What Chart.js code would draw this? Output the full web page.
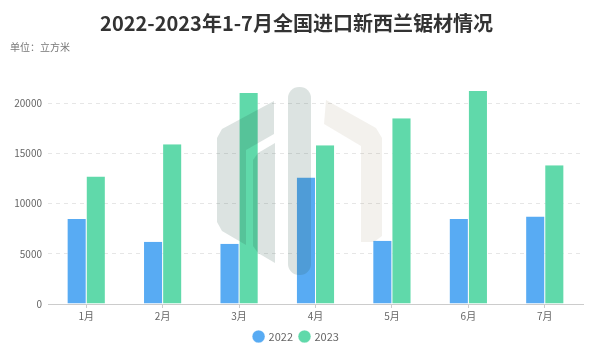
<!DOCTYPE html>
<html>
<head>
<meta charset="utf-8">
<script src="https://cdn.jsdelivr.net/npm/chart.js@4"></script>
<style>
  html, body { margin: 0; padding: 0; background: #fff; }
  #wrap { width: 600px; height: 364px; position: relative; }
</style>
</head>
<body>
<div id="wrap"><canvas id="woodChart" width="600" height="364"></canvas></div>
<script>
const months = ['1月', '2月', '3月', '4月', '5月', '6月', '7月'];
const data2022 = [8450, 6200, 6000, 12600, 6300, 8450, 8700];
const data2023 = [12700, 15900, 21000, 15800, 18500, 21200, 13800];
const yTicks = [0, 5000, 10000, 15000, 20000];

const font = '"Noto Sans CJK SC", "Noto Sans", sans-serif';

// faint logo watermark drawn over the bars
const watermark = {
  id: 'watermark',
  afterDatasetsDraw(chart) {
    const c = chart.ctx;
    const poly = (pts, color) => {
      c.beginPath();
      c.moveTo(pts[0][0], pts[0][1]);
      for (let i = 1; i < pts.length; i++) c.lineTo(pts[i][0], pts[i][1]);
      c.closePath();
      c.fillStyle = color;
      c.fill();
    };
    c.save();
    const grey = 'rgba(40,80,70,0.16)';
    poly([[274,101],[222,129],[217,138],[217,222],[222,231],[246,245],[246,150],[274,134]], grey);
    poly([[275,143],[258,153],[253,160],[253,246],[258,253],[275,263]], grey);
    c.beginPath();
    c.roundRect(288, 87, 23, 188, 11);
    c.fillStyle = grey;
    c.fill();
    poly([[326,100],[376,128],[382,138],[382,236],[374,242],[361,242],[361,146],[324,124]], 'rgba(140,120,80,0.10)');
    c.restore();
  }
};

const ctx = document.getElementById('woodChart').getContext('2d');
new Chart(ctx, {
  type: 'bar',
  data: {
    labels: months,
    datasets: [
      {
        label: '2022',
        data: data2022,
        backgroundColor: '#58abf3',
        borderColor: '#ffffff',
        borderWidth: { left: 0.5, right: 0.5, top: 0, bottom: 0 },
        categoryPercentage: 0.5,
        barPercentage: 1.0,
      },
      {
        label: '2023',
        data: data2023,
        backgroundColor: '#60d9aa',
        borderColor: '#ffffff',
        borderWidth: { left: 0.5, right: 0.5, top: 0, bottom: 0 },
        categoryPercentage: 0.5,
        barPercentage: 1.0,
      }
    ]
  },
  options: {
    responsive: false,
    animation: false,
    layout: { padding: { left: 10, right: 17, top: 5, bottom: 12 } },
    scales: {
      x: {
        grid: { offset: false, drawOnChartArea: false, color: '#cccccc', tickLength: 4 },
        border: { color: '#cccccc' },
        ticks: { color: '#666666', font: { family: font, size: 10 }, padding: 2 },
      },
      y: {
        min: 0,
        max: 22000,
        afterBuildTicks: (scale) => { scale.ticks = yTicks.map(v => ({ value: v })); },
        afterFit: (scale) => { scale.width = 38; },
        grid: { color: '#e6e6e6', drawTicks: false },
        border: { display: false, dash: [4, 4] },
        ticks: {
          color: '#666666',
          font: { family: font, size: 10 },
          padding: 6,
          callback: (v) => String(v),
        },
      }
    },
    plugins: {
      title: {
        display: true,
        text: '2022-2023年1-7月全国进口新西兰锯材情况',
        color: '#333333',
        font: { family: font, size: 20, weight: 'bold' },
        padding: { top: 6, bottom: 4 },
      },
      subtitle: {
        display: true,
        text: '单位：立方米',
        align: 'start',
        color: '#777777',
        font: { family: font, size: 10 },
        padding: { top: 2, bottom: 30 },
      },
      legend: {
        position: 'bottom',
        labels: {
          usePointStyle: true,
          pointStyle: 'circle',
          boxWidth: 9,
          boxHeight: 9,
          color: '#666666',
          font: { family: font, size: 11 },
          padding: 7,
        }
      },
      tooltip: { enabled: false }
    }
  },
  plugins: [watermark]
});
</script>
</body>
</html>
